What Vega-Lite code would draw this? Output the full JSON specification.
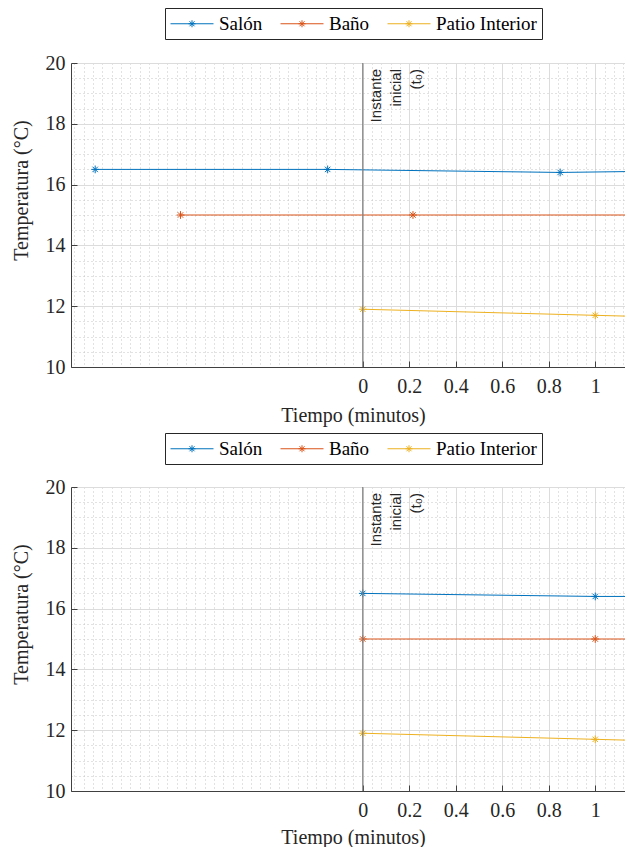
{
  "$schema": "https://vega.github.io/schema/vega-lite/v6.json",
  "background": "white",
  "padding": {"left": 11, "top": 7, "right": 0, "bottom": 0},
  "config": {"view": {"stroke": null}},
  "datasets": {
    "top": [
      {"serie": "Salón", "t": -1.151, "temp": 16.5},
      {"serie": "Salón", "t": -0.151, "temp": 16.5},
      {"serie": "Salón", "t": 0.849, "temp": 16.4},
      {"serie": "Salón", "t": 1.849, "temp": 16.5},
      {"serie": "Baño", "t": -0.784, "temp": 15},
      {"serie": "Baño", "t": 0.216, "temp": 15},
      {"serie": "Baño", "t": 1.216, "temp": 15},
      {"serie": "Patio Interior", "t": 0, "temp": 11.9},
      {"serie": "Patio Interior", "t": 1, "temp": 11.7},
      {"serie": "Patio Interior", "t": 2, "temp": 11.5}
    ],
    "bottom": [
      {"serie": "Salón", "t": 0, "temp": 16.5},
      {"serie": "Salón", "t": 1, "temp": 16.4},
      {"serie": "Salón", "t": 2, "temp": 16.4},
      {"serie": "Baño", "t": 0, "temp": 15},
      {"serie": "Baño", "t": 1, "temp": 15},
      {"serie": "Baño", "t": 2, "temp": 15},
      {"serie": "Patio Interior", "t": 0, "temp": 11.9},
      {"serie": "Patio Interior", "t": 1, "temp": 11.7},
      {"serie": "Patio Interior", "t": 2, "temp": 11.5}
    ],
    "marcador": [{"t": 0, "temp": 20, "label": ["Instante", "inicial", "(t₀)"]}]
  },
  "spacing": 7,
  "resolve": {
    "scale": {"x": "independent", "y": "independent", "color": "independent"},
    "axis": {"x": "independent", "y": "independent"},
    "legend": {"color": "independent"}
  },
  "vconcat": [
    {
      "width": 554,
      "height": 304,
      "data": {"name": "top"},
      "resolve": {"axis": {"x": "independent", "y": "independent"}},
      "layer": [
        {
          "mark": {"type": "line", "strokeWidth": 1, "clip": true},
          "encoding": {
            "x": {"field": "t", "type": "quantitative", "scale": {"domain": [-1.255, 1.128], "nice": false, "zero": false},
              "axis": {"orient": "bottom", "values": [-1.24,-1.2,-1.16,-1.12,-1.08,-1.04,-1,-0.96,-0.92,-0.88,-0.84,-0.8,-0.76,-0.72,-0.68,-0.64,-0.6,-0.56,-0.52,-0.48,-0.44,-0.4,-0.36,-0.32,-0.28,-0.24,-0.2,-0.16,-0.12,-0.08,-0.04,0.04,0.08,0.12,0.16,0.24,0.28,0.32,0.36,0.44,0.48,0.52,0.56,0.64,0.68,0.72,0.76,0.84,0.88,0.92,0.96,1.04,1.08,1.12],
                "grid": true, "gridDash": [1, 3], "gridColor": "#c4c4c4", "gridWidth": 1, "domain": false, "ticks": false, "labels": false, "title": null}},
            "y": {"field": "temp", "type": "quantitative", "scale": {"domain": [10, 20], "nice": false, "zero": false},
              "axis": {"orient": "left", "values": [10.5,11,11.5,12.5,13,13.5,14.5,15,15.5,16.5,17,17.5,18.5,19,19.5],
                "grid": true, "gridDash": [1, 3], "gridColor": "#c4c4c4", "gridWidth": 1, "domain": false, "ticks": false, "labels": false, "title": null}},
            "color": {"field": "serie", "type": "nominal",
              "scale": {"domain": ["Salón", "Baño", "Patio Interior"], "range": ["#0072BD", "#D95319", "#EDB120"]},
              "legend": {"orient": "none", "legendX": 94, "legendY": -55, "direction": "horizontal", "title": null,
                "labelFont": "Liberation Serif", "labelFontSize": 19, "labelColor": "#000000", "labelOffset": 28,
                "strokeColor": "#262626", "fillColor": "white", "padding": 5, "columnPadding": 15,
                "symbolType": "M-1,0L3.3,0M0.8,0L1.5,0M1.15,-0.35L1.15,0.35M0.9,-0.25L1.4,0.25M0.9,0.25L1.4,-0.25",
                "symbolSize": 400, "symbolStrokeWidth": 1,
                "encode": {"symbols": {"update": {"fill": {"value": "transparent"}, "strokeWidth": {"value": 1}}}}}}
          }
        },
        {
          "mark": {"type": "point", "shape": "M-1,0L1,0M0,-1L0,1M-0.7,-0.7L0.7,0.7M-0.7,0.7L0.7,-0.7", "size": 60, "filled": false, "strokeWidth": 1, "opacity": 1, "clip": true},
          "encoding": {
            "x": {"field": "t", "type": "quantitative",
              "axis": {"orient": "bottom", "values": [0, 0.2, 0.4, 0.6, 0.8, 1], "format": "~g", "grid": true, "gridColor": "#dcdcdc", "gridWidth": 1,
                "domain": true, "domainColor": "#404040", "domainWidth": 1, "ticks": true, "tickColor": "#404040", "tickSize": -6,
                "labelPadding": 15, "labelFont": "Liberation Serif", "labelFontSize": 20, "labelColor": "#262626", "labelFlush": false, "labelOverlap": false,
                "title": "Tiempo (minutos)", "titleFont": "Liberation Serif", "titleFontSize": 20, "titleFontWeight": "normal", "titleColor": "#262626", "titlePadding": 9, "titleX": 282}},
            "y": {"field": "temp", "type": "quantitative",
              "axis": {"orient": "left", "values": [10, 12, 14, 16, 18, 20], "grid": true, "gridColor": "#dcdcdc", "gridWidth": 1,
                "domain": true, "domainColor": "#404040", "domainWidth": 1, "ticks": true, "tickColor": "#404040", "tickSize": -6,
                "labelPadding": 12, "labelFont": "Liberation Serif", "labelFontSize": 20, "labelColor": "#262626", "labelFlush": false, "labelOverlap": false,
                "title": "Temperatura (°C)", "titleFont": "Liberation Serif", "titleFontSize": 20, "titleFontWeight": "normal", "titleColor": "#262626", "titlePadding": 14, "titleY": 127}},
            "color": {"field": "serie", "type": "nominal",
              "legend": {"orient": "none", "legendX": 94, "legendY": -55, "direction": "horizontal", "title": null,
                "labelFont": "Liberation Serif", "labelFontSize": 19, "labelColor": "#000000", "labelOffset": 28,
                "strokeColor": "#262626", "fillColor": "white", "padding": 5, "columnPadding": 15,
                "symbolType": "M-1,0L3.3,0M0.8,0L1.5,0M1.15,-0.35L1.15,0.35M0.9,-0.25L1.4,0.25M0.9,0.25L1.4,-0.25",
                "symbolSize": 400, "symbolStrokeWidth": 1,
                "encode": {"symbols": {"update": {"fill": {"value": "transparent"}, "strokeWidth": {"value": 1}}}}}}
          }
        },
        {
          "data": {"name": "marcador"},
          "mark": {"type": "rule", "color": "#808080", "strokeWidth": 1.2},
          "encoding": {"x": {"field": "t", "type": "quantitative", "axis": null}}
        },
        {
          "data": {"name": "marcador"},
          "mark": {"type": "text", "angle": 270, "align": "right", "baseline": "top", "dx": -6, "dy": 6, "font": "Liberation Sans", "fontSize": 15, "lineHeight": 20, "color": "#262626"},
          "encoding": {
            "x": {"field": "t", "type": "quantitative", "axis": null},
            "y": {"field": "temp", "type": "quantitative", "axis": null},
            "text": {"field": "label"}
          }
        }
      ]
    },
    {
      "width": 554,
      "height": 304,
      "data": {"name": "bottom"},
      "resolve": {"axis": {"x": "independent", "y": "independent"}},
      "layer": [
        {
          "mark": {"type": "line", "strokeWidth": 1, "clip": true},
          "encoding": {
            "x": {"field": "t", "type": "quantitative", "scale": {"domain": [-1.255, 1.128], "nice": false, "zero": false},
              "axis": {"orient": "bottom", "values": [-1.24,-1.2,-1.16,-1.12,-1.08,-1.04,-1,-0.96,-0.92,-0.88,-0.84,-0.8,-0.76,-0.72,-0.68,-0.64,-0.6,-0.56,-0.52,-0.48,-0.44,-0.4,-0.36,-0.32,-0.28,-0.24,-0.2,-0.16,-0.12,-0.08,-0.04,0.04,0.08,0.12,0.16,0.24,0.28,0.32,0.36,0.44,0.48,0.52,0.56,0.64,0.68,0.72,0.76,0.84,0.88,0.92,0.96,1.04,1.08,1.12],
                "grid": true, "gridDash": [1, 3], "gridColor": "#c4c4c4", "gridWidth": 1, "domain": false, "ticks": false, "labels": false, "title": null}},
            "y": {"field": "temp", "type": "quantitative", "scale": {"domain": [10, 20], "nice": false, "zero": false},
              "axis": {"orient": "left", "values": [10.5,11,11.5,12.5,13,13.5,14.5,15,15.5,16.5,17,17.5,18.5,19,19.5],
                "grid": true, "gridDash": [1, 3], "gridColor": "#c4c4c4", "gridWidth": 1, "domain": false, "ticks": false, "labels": false, "title": null}},
            "color": {"field": "serie", "type": "nominal",
              "scale": {"domain": ["Salón", "Baño", "Patio Interior"], "range": ["#0072BD", "#D95319", "#EDB120"]},
              "legend": {"orient": "none", "legendX": 94, "legendY": -54, "direction": "horizontal", "title": null,
                "labelFont": "Liberation Serif", "labelFontSize": 19, "labelColor": "#000000", "labelOffset": 28,
                "strokeColor": "#262626", "fillColor": "white", "padding": 5, "columnPadding": 15,
                "symbolType": "M-1,0L3.3,0M0.8,0L1.5,0M1.15,-0.35L1.15,0.35M0.9,-0.25L1.4,0.25M0.9,0.25L1.4,-0.25",
                "symbolSize": 400, "symbolStrokeWidth": 1,
                "encode": {"symbols": {"update": {"fill": {"value": "transparent"}, "strokeWidth": {"value": 1}}}}}}
          }
        },
        {
          "mark": {"type": "point", "shape": "M-1,0L1,0M0,-1L0,1M-0.7,-0.7L0.7,0.7M-0.7,0.7L0.7,-0.7", "size": 60, "filled": false, "strokeWidth": 1, "opacity": 1, "clip": true},
          "encoding": {
            "x": {"field": "t", "type": "quantitative",
              "axis": {"orient": "bottom", "values": [0, 0.2, 0.4, 0.6, 0.8, 1], "format": "~g", "grid": true, "gridColor": "#dcdcdc", "gridWidth": 1,
                "domain": true, "domainColor": "#404040", "domainWidth": 1, "ticks": true, "tickColor": "#404040", "tickSize": -6,
                "labelPadding": 15, "labelFont": "Liberation Serif", "labelFontSize": 20, "labelColor": "#262626", "labelFlush": false, "labelOverlap": false,
                "title": "Tiempo (minutos)", "titleFont": "Liberation Serif", "titleFontSize": 20, "titleFontWeight": "normal", "titleColor": "#262626", "titlePadding": 7, "titleX": 282}},
            "y": {"field": "temp", "type": "quantitative",
              "axis": {"orient": "left", "values": [10, 12, 14, 16, 18, 20], "grid": true, "gridColor": "#dcdcdc", "gridWidth": 1,
                "domain": true, "domainColor": "#404040", "domainWidth": 1, "ticks": true, "tickColor": "#404040", "tickSize": -6,
                "labelPadding": 12, "labelFont": "Liberation Serif", "labelFontSize": 20, "labelColor": "#262626", "labelFlush": false, "labelOverlap": false,
                "title": "Temperatura (°C)", "titleFont": "Liberation Serif", "titleFontSize": 20, "titleFontWeight": "normal", "titleColor": "#262626", "titlePadding": 14, "titleY": 127}},
            "color": {"field": "serie", "type": "nominal",
              "legend": {"orient": "none", "legendX": 94, "legendY": -54, "direction": "horizontal", "title": null,
                "labelFont": "Liberation Serif", "labelFontSize": 19, "labelColor": "#000000", "labelOffset": 28,
                "strokeColor": "#262626", "fillColor": "white", "padding": 5, "columnPadding": 15,
                "symbolType": "M-1,0L3.3,0M0.8,0L1.5,0M1.15,-0.35L1.15,0.35M0.9,-0.25L1.4,0.25M0.9,0.25L1.4,-0.25",
                "symbolSize": 400, "symbolStrokeWidth": 1,
                "encode": {"symbols": {"update": {"fill": {"value": "transparent"}, "strokeWidth": {"value": 1}}}}}}
          }
        },
        {
          "data": {"name": "marcador"},
          "mark": {"type": "rule", "color": "#808080", "strokeWidth": 1.2},
          "encoding": {"x": {"field": "t", "type": "quantitative", "axis": null}}
        },
        {
          "data": {"name": "marcador"},
          "mark": {"type": "text", "angle": 270, "align": "right", "baseline": "top", "dx": -6, "dy": 6, "font": "Liberation Sans", "fontSize": 15, "lineHeight": 20, "color": "#262626"},
          "encoding": {
            "x": {"field": "t", "type": "quantitative", "axis": null},
            "y": {"field": "temp", "type": "quantitative", "axis": null},
            "text": {"field": "label"}
          }
        }
      ]
    }
  ]
}
